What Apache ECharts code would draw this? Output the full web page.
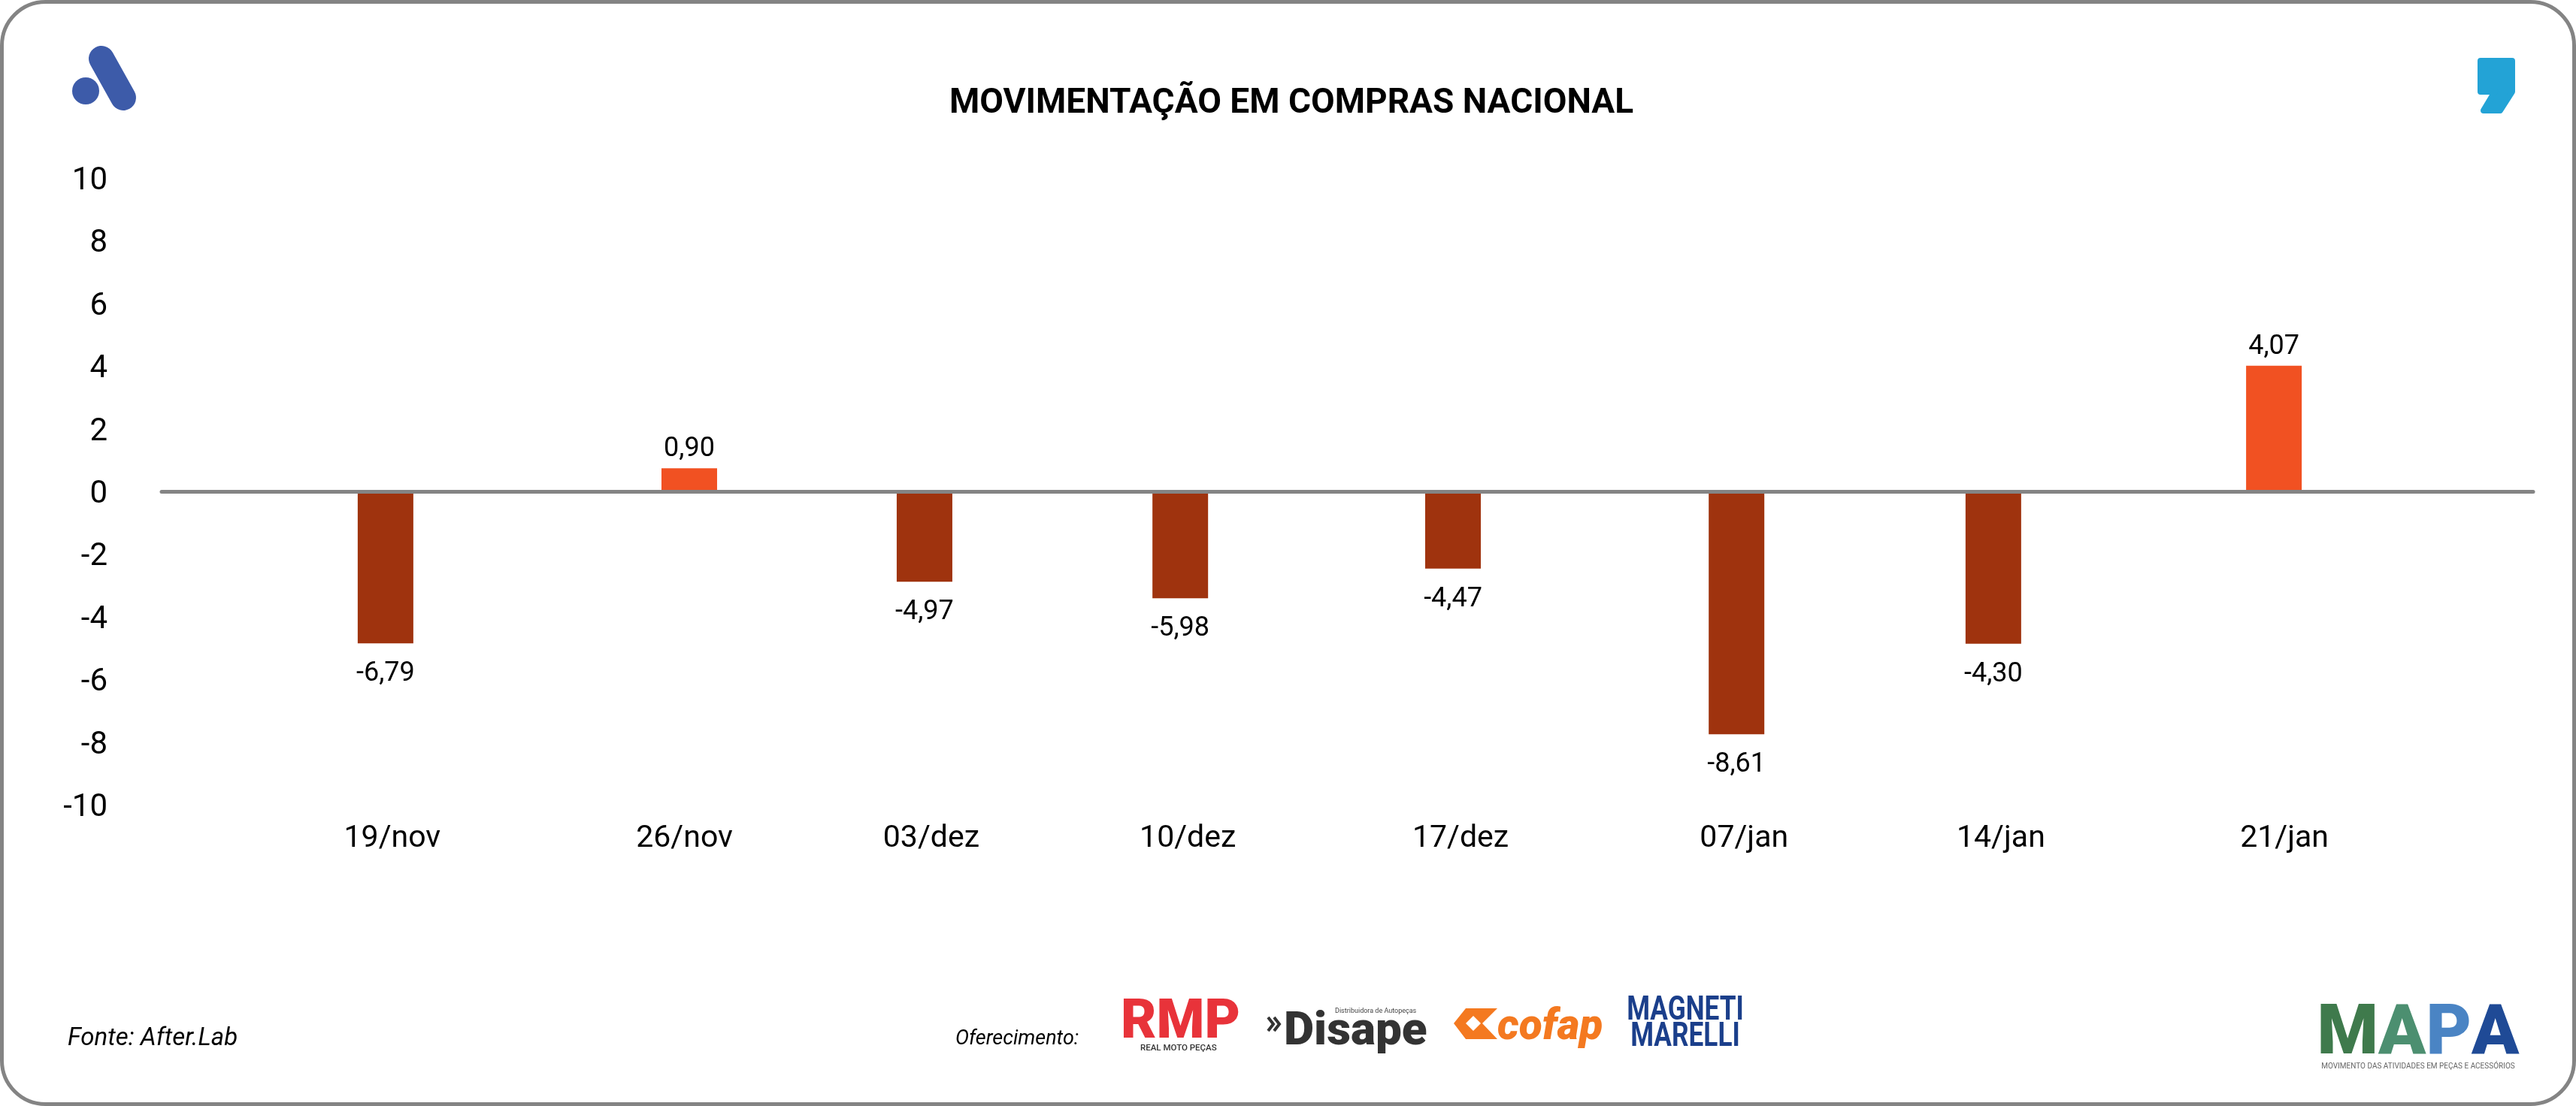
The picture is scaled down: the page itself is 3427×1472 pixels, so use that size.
<!DOCTYPE html>
<html>
<head>
<meta charset="utf-8">
<style>html,body{margin:0;padding:0;background:#fff}#c{width:3427px;height:1472px}</style>
<script src="https://cdn.jsdelivr.net/npm/echarts@6/dist/echarts.min.js"></script>
</head>
<body>
<div id="c"></div>
<script>
var categories = ['19/nov','26/nov','03/dez','10/dez','17/dez','07/jan','14/jan','21/jan'];
var barValues = [-4.84, 0.75, -2.87, -3.4, -2.45, -7.74, -4.85, 4.02];
var valueLabels = ['-6,79','0,90','-4,97','-5,98','-4,47','-8,61','-4,30','4,07'];
var barSlots = [0, 1.126, 1.998, 2.946, 3.957, 5.008, 5.96, 7];
var labelSlots = [0.025, 1.108, 2.023, 2.974, 3.985, 5.036, 5.988, 7.039];

var FONT = 'Roboto, sans-serif';
var chart = echarts.init(document.getElementById('c'), null, {renderer:'canvas', width:3427, height:1472});

function txt(x,y,s,style,extra){
  return Object.assign({type:'text', x:x, y:y, silent:true, z:10, style:Object.assign({text:s, textAlign:'left', textVerticalAlign:'middle', fontFamily:FONT, fill:'#000'}, style||{})}, extra||{});
}

chart.setOption({
  backgroundColor:'#fff',
  animation:false,
  title:{
    text:'MOVIMENTAÇÃO EM COMPRAS NACIONAL',
    left:1263, top:115, padding:0,
    textStyle:{fontFamily:'Roboto', fontWeight:'bold', fontSize:46, color:'#000'}
  },
  grid:{left:215, top:237.5, width:3155, height:834, containLabel:false},
  xAxis:[{
    type:'value', min:-0.83, max:7.961, position:'bottom',
    axisLine:{show:false, onZero:false}, axisTick:{show:false}, splitLine:{show:false},
    axisLabel:{
      customValues:labelSlots,
      margin:25,
      fontFamily:FONT, fontSize:41, color:'#000',
      formatter:function(v){ return categories[labelSlots.indexOf(v)]; }
    }
  },{
    type:'value', min:-0.83, max:7.961, position:'bottom', z:3,
    axisLine:{show:true, onZero:true, lineStyle:{color:'#848484', width:5}},
    axisTick:{show:false}, axisLabel:{show:false}, splitLine:{show:false}
  }],
  yAxis:{
    type:'value', min:-10, max:10, interval:2,
    axisLine:{show:false}, axisTick:{show:false}, splitLine:{show:false},
    axisLabel:{margin:72, verticalAlign:'top', lineHeight:8, fontFamily:FONT, fontSize:42, color:'#000'}
  },
  series:[{
    type:'bar', xAxisIndex:0, yAxisIndex:0, barWidth:74, z:2,
    data:barSlots.map(function(s,i){
      return {value:[s, barValues[i]], label:{distance: barValues[i] < 0 ? 23 : 7}};
    }),
    itemStyle:{color:function(p){ return p.value[1] < 0 ? '#9f330e' : '#f15122'; }},
    label:{
      show:true,
      position:'outside',
      fontFamily:FONT, fontSize:36, color:'#000',
      formatter:function(p){ return valueLabels[p.dataIndex]; }
    }
  }],
  graphic:{elements:[
    {type:'rect', silent:true, z:0, shape:{x:2.5,y:2.5,width:3422,height:1467,r:58}, style:{fill:'none', stroke:'#848484', lineWidth:5}},
    // brand marks
    {type:'circle', silent:true, shape:{cx:114,cy:121,r:18}, style:{fill:'#3d5ba9'}},
    {type:'line', silent:true, shape:{x1:135,y1:78,x2:164,y2:130}, style:{stroke:'#3d5ba9', lineWidth:34, lineCap:'round'}},
    {type:'polygon', silent:true, shape:{points:[[3300,81],[3342,81],[3342,122],[3326,147],[3304,147],[3319,122],[3300,122]]}, style:{fill:'#23a3d6', stroke:'#23a3d6', lineWidth:8, lineJoin:'round'}},
    // footer
    txt(90,1383,'Fonte: After.Lab',{fontStyle:'italic', fontSize:33}),
    txt(1271,1383,'Oferecimento:',{fontStyle:'italic', fontSize:27}),
    // sponsors
    txt(1491,1363,'RMP',{fontWeight:900, fontSize:73, fill:'#e8333a'}),
    txt(1517,1395,'REAL MOTO PEÇAS',{fontWeight:500, fontSize:11.5, fill:'#333'}),
    {type:'polyline', silent:true, shape:{points:[[1687,1354],[1694,1363],[1687,1372]]}, style:{fill:'none', stroke:'#333', lineWidth:4}},
    {type:'polyline', silent:true, shape:{points:[[1695,1354],[1702,1363],[1695,1372]]}, style:{fill:'none', stroke:'#333', lineWidth:4}},
    txt(1708,1374,'Disape',{fontWeight:900, fontSize:62, fill:'#333'}),
    txt(1776,1346,'Distribuidora de Autopeças',{fontSize:9, fill:'#444'}),
    {type:'polygon', silent:true, shape:{points:[[1950,1342],[1992,1342],[1972,1362],[1992,1383],[1950,1383],[1934,1362]]}, style:{fill:'#f47920'}},
    {type:'polygon', silent:true, shape:{points:[[1950,1362],[1960,1352],[1970,1362],[1960,1372]]}, style:{fill:'#fff'}},
    txt(1992,1369,'cofap',{fontWeight:900, fontStyle:'italic', fontSize:57, fill:'#f47920'}),
    txt(2242,1346,'MAGNETI',{textAlign:'center', fontWeight:'bold', fontSize:44, fill:'#1b3f8b'},{scaleX:0.8}),
    txt(2242,1381,'MARELLI',{textAlign:'center', fontWeight:'bold', fontSize:44, fill:'#1b3f8b'},{scaleX:0.8}),
    // MAPA
    txt(3217,1379,'{m|M}{a|A}{p|P}{b|A}',{textAlign:'center', fontWeight:900, fontSize:93, fill:'#3f7a4c',
      rich:{
        m:{fontFamily:FONT, fontWeight:900, fontSize:93, fill:'#3f7a4c'},
        a:{fontFamily:FONT, fontWeight:900, fontSize:93, fill:'#4c8f70'},
        p:{fontFamily:FONT, fontWeight:900, fontSize:93, fill:'#4a84c4'},
        b:{fontFamily:FONT, fontWeight:900, fontSize:93, fill:'#1f4a96'}
      }}),
    txt(3217,1419,'MOVIMENTO DAS ATIVIDADES EM PEÇAS E ACESSÓRIOS',{textAlign:'center', fontSize:10, fill:'#666'})
  ]}
});
</script>
</body>
</html>
